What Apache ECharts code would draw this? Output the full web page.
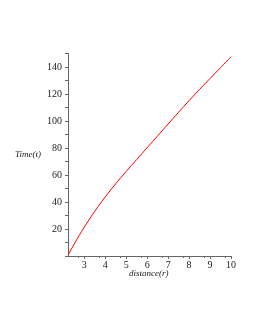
<!DOCTYPE html>
<html><head><meta charset="utf-8">
<script src="https://cdn.jsdelivr.net/npm/echarts@6/dist/echarts.min.js"></script>
<style>html,body{margin:0;padding:0;background:#fff}#c{width:255px;height:330px}</style>
</head><body><div id="c"></div>
<script>
var distance = [2.22, 2.25, 2.5, 2.75, 3, 3.5, 4, 4.5, 5, 5.5, 6, 6.5, 7, 7.5, 8, 8.5, 9, 9.5, 10];
var time     = [0.8, 1.5, 8.4, 15.1, 21.5, 33.2, 43.8, 53.6, 62.7, 71.5, 80.3, 89, 97.8, 106.5, 115.1, 123.4, 131.5, 139.5, 147.5];
var xTicks = [3, 4, 5, 6, 7, 8, 9, 10];
var yTicks = [20, 40, 60, 80, 100, 120, 140];

var chart = echarts.init(document.getElementById('c'), null, {renderer: 'canvas'});
var lab = {fontFamily: 'Liberation Serif', fontSize: 10, color: '#222'};
chart.setOption({
  animation: false,
  grid: {left: 68, right: 24, top: 53.5, bottom: 74},
  xAxis: {
    type: 'value', min: 2.22, max: 10, interval: 1,
    axisLine: {onZero: false, lineStyle: {color: '#666', width: 1}},
    axisTick: {length: 3, lineStyle: {color: '#666'}, customValues: xTicks},
    minorTick: {show: true, splitNumber: 2, length: 2, lineStyle: {color: '#666'}},
    splitLine: {show: false},
    axisLabel: Object.assign({margin: 4, customValues: xTicks, formatter: function(v){return v;}}, lab)
  },
  yAxis: {
    type: 'value', min: 0, max: 150, interval: 10,
    axisLine: {show: true, lineStyle: {color: '#666', width: 1}},
    axisTick: {show: true, length: 3, lineStyle: {color: '#666'}},
    splitLine: {show: false},
    axisLabel: Object.assign({margin: 6, formatter: function(v){return (yTicks.indexOf(v) >= 0) ? v : '';}}, lab)
  },
  graphic: [
    {type: 'text', left: 15, top: 150, style: {text: 'Time(t)', font: 'italic 9px "Liberation Serif"', fill: '#222'}},
    {type: 'text', left: 129, top: 269, style: {text: 'distance(r)', font: 'italic 9px "Liberation Serif"', fill: '#222'}}
  ],
  series: [{
    type: 'line', data: distance.map(function(d, i){return [d, time[i]];}),
    smooth: 0.3, showSymbol: false, lineStyle: {color: '#ff0000', width: 1}
  }]
});
</script></body></html>
